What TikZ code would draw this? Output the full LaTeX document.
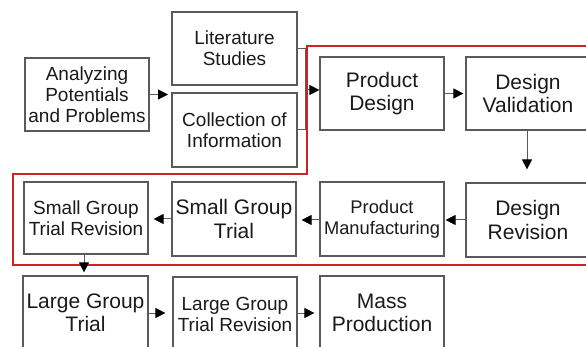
\documentclass[tikz,border=0pt]{standalone}
\usepackage{fontspec}
\setmainfont{Liberation Sans}
\usetikzlibrary{arrows.meta}
\definecolor{boxline}{HTML}{5A5A5A}
\definecolor{txt}{HTML}{1A1A1A}
\definecolor{redline}{HTML}{D02222}
\tikzset{
  stepbox/.style={draw=boxline, line width=1.2pt, rectangle, inner sep=0pt,
    minimum width=124pt, minimum height=73pt, align=center, text=txt},
  big/.style={font=\fontsize{21}{23.5}\selectfont},
  small/.style={font=\fontsize{19}{21}\selectfont},
  tiny/.style={font=\fontsize{18.3}{21}\selectfont},
  flow/.style={draw=boxline, line width=1pt, -{Triangle[length=10pt,width=10pt,color=black]}},
  link/.style={draw=boxline, line width=1pt},
  redframe/.style={draw=redline, line width=2.8pt}
}
\begin{document}
\begin{tikzpicture}[x=1pt,y=-1pt]
\useasboundingbox (0,0) rectangle (586,347);
\clip (0,0) rectangle (586,347);
\fill[white] (0,0) rectangle (586,347);
% red frame
\draw[redframe] (307,46) -- (600,46) -- (600,265) -- (13,265) -- (13,174) -- (307,174) -- cycle;
% boxes
\node[stepbox, small] (ana) at (87,94.5) {Analyzing\\Potentials\\and Problems};
\node[stepbox, small, minimum width=125pt] (lit) at (234.5,48.5) {Literature\\Studies};
\node[stepbox, small, minimum width=125pt, minimum height=74pt] (col) at (234.5,130) {Collection of\\Information};
\node[stepbox, big] (pd) at (382,93.5) {Product\\Design};
\node[stepbox, big] (dv) at (528,93.5) {Design\\Validation};
\node[stepbox, big, minimum height=74pt] (dr) at (528,220) {Design\\Revision};
\node[stepbox, tiny, minimum height=74pt] (pm) at (382,219) {Product\\Manufacturing};
\node[stepbox, big, minimum height=74pt] (sgt) at (234,219) {Small Group\\Trial};
\node[stepbox, small, minimum height=72pt] (sgtr) at (86,218) {Small Group\\Trial Revision};
\node[stepbox, big, minimum width=125pt, minimum height=74pt] (lgt) at (85.5,313) {Large Group\\Trial};
\node[stepbox, small, minimum height=74pt] (lgtr) at (235,314) {Large Group\\Trial Revision};
\node[stepbox, big, minimum height=74pt] (mp) at (382,313) {Mass\\Production};
% connectors
\coordinate (gap) at (168,94.5);
\path[flow] (ana.east) -- (gap);
\coordinate (ja) at (305,48.5);
\coordinate (jb) at (305,130);
\coordinate (jm) at (305,90);
\path[link] (lit.east) -- (ja) -- (jb) -- (col.east);
\path[flow] (jm) -- (jm -| pd.west);
\path[flow, shorten >=2pt] (pd.east) -- (dv.west);
\path[flow, shorten >=13pt] (dv.south -| 527,0) -- (dr.north -| 527,0);
\path[flow, shorten >=1pt] (dr.west |- 0,220) -- (pm.east |- 0,220);
\path[flow, shorten >=5pt] (pm.west |- 0,220) -- (sgt.east |- 0,220);
\path[flow, shorten >=5pt] (sgt.west |- 0,219) -- (sgtr.east |- 0,219);
\path[flow, shorten >=3pt] (sgtr.south -| 84,0) -- (lgt.north -| 84,0);
\path[flow, shorten >=7pt] (lgt.east |- 0,313) -- (lgtr.west |- 0,313);
\path[flow, shorten >=5pt] (lgtr.east |- 0,313) -- (mp.west |- 0,313);
\end{tikzpicture}
\end{document}
